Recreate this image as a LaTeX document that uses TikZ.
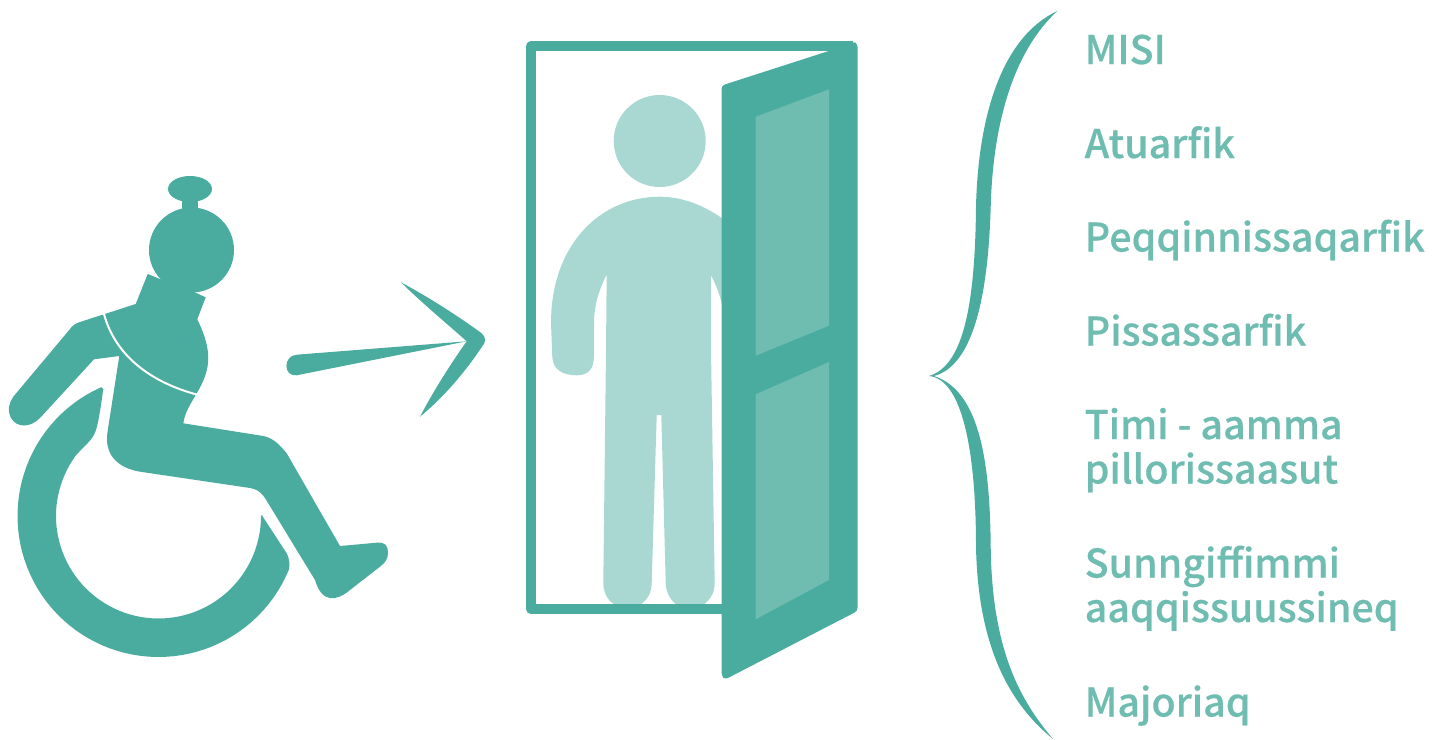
\documentclass[tikz,border=0pt]{standalone}
\usepackage{fontspec}
\setmainfont[FakeBold=0.35]{Noto Sans CJK SC Medium}
\definecolor{tealdark}{HTML}{49AC9E}
\definecolor{tealmid}{HTML}{6FBCB0}
\definecolor{teallight}{HTML}{A8D8D1}
\begin{document}
\begin{tikzpicture}[x=1pt,y=-1pt,solid/.style={fill=tealdark,draw=none},pale/.style={fill=teallight,draw=none},panel/.style={fill=tealmid,draw=none},
label/.style={anchor=base west,inner sep=0pt,text=tealmid,font=\fontsize{39.4}{44.5}\selectfont,align=left}]
\useasboundingbox (0,0) rectangle (1432,739);
\fill[solid] (190,189) ellipse [x radius=22,y radius=13];
\fill[solid] (182,198) rectangle (198,212);
\fill[solid] (191.5,250) circle [radius=42.5];
\fill[solid] (147.7,274) -- (165,281) -- (194,292) -- (205.7,297.3) -- (197.3,319.3)
  .. controls (212,350) and (212,368) .. (196.7,393.3)
  .. controls (190,405) and (185,412) .. (183.3,423.3) -- (263.3,436)
  .. controls (273,438) and (279,444) .. (286.7,453.3) -- (340,546) -- (376.7,542.7)
  .. controls (386,542) and (388,546) .. (388,553) .. controls (388,559) and (385,563) .. (380,566.7)
  -- (350,590) .. controls (337,601) and (322,604) .. (315,580) -- (265,498)
  .. controls (260,491) and (256,489) .. (250,488) -- (140,471.7)
  .. controls (118,468) and (104,455) .. (107.5,432) -- (119.3,356) -- (94,359.3) -- (40,418)
  .. controls (30,428) and (17,428) .. (11,418) .. controls (7,410) and (9,403) .. (13.3,396.7)
  -- (71.7,327) .. controls (75,323.5) and (77,323) .. (80,322) -- (135.7,304) -- cycle;
\draw[white,line width=2pt] (104,314) .. controls (115,355) and (150,382) .. (196.7,394.5);
\fill[solid] (103.3,389) -- plot[domain=246:22.5,samples=70] ({158.5+141*cos(\x)},{516+141*sin(\x)})
  .. controls (290,566) and (289.5,558) .. (286.7,553.3) -- (261.7,515)
  -- plot[domain=0:216,samples=70] ({158.5+102.5*cos(\x)},{516+102.5*sin(\x)})
  .. controls (84,446) and (93,440) .. (96,430) .. controls (99,420) and (101,405) .. (103.3,389) -- cycle;
\fill[solid] (296.7,354.7) -- (466.7,341.3) -- (296.7,375.3) .. controls (283,377) and (283,355.5) .. (296.7,354.7) -- cycle;
\fill[solid] (401,282.3) .. controls (430,298) and (458,316) .. (481.7,333.3) .. controls (486,337) and (486,342) .. (482.5,346)
  .. controls (465,372) and (445,396) .. (420,416.7) .. controls (434,390) and (450,365) .. (466.7,341.3)
  .. controls (445,322) and (422,303) .. (401,282.3) -- cycle;
\fill[pale] (659.7,141) circle [radius=46];
\fill[pale] (659.7,196.7) .. controls (600,196.7) and (551,245) .. (551,323) -- (552.3,357)
  .. controls (553,370) and (563,375.3) .. (577,375.3) .. controls (589,375.3) and (594,368) .. (594,356) -- (594,323)
  .. controls (594,305) and (599,290) .. (606.7,274.3) -- (606,350) -- (603.3,583)
  .. controls (603.3,593) and (608,601) .. (615,604.7) -- (640,604.7) .. controls (648,600) and (651.5,592) .. (651.7,583)
  -- (656.7,415) -- (661.3,415) -- (665.7,583) .. controls (666,592) and (670,600) .. (676.7,604.7) -- (703.3,604.7)
  .. controls (710,600) and (714.7,593) .. (714.7,583) -- (711,350) -- (711,275) .. controls (716,285) and (720,295) .. (722,305)
  -- (730,305) -- (730,225) -- (721.7,218) .. controls (703,205) and (682,196.7) .. (659.7,196.7) -- cycle;
\draw[tealdark,line width=10pt,line join=round] (730,609.3) -- (531.2,609.3) -- (531.2,46) -- (853,46);
\fill[solid,rounded corners=3pt] (721.7,85.5) -- (852,43.5) -- (853,41) -- (857.5,44) -- (857.5,611) -- (725,679.5) -- (721.7,676) -- cycle;
\fill[panel] (755.7,116.7) -- (829,89.3) -- (829,325.7) -- (755.7,355.7) -- cycle;
\fill[panel] (755.7,394.3) -- (829,362) -- (829,580) -- (755.7,619.3) -- cycle;
\fill[solid] (1057.3,11) .. controls (1000,38) and (978,120) .. (976,207) .. controls (975,310) and (962,366) .. (929,376)
  .. controls (962,379) and (976,450) .. (976,547) .. controls (978,640) and (1005,700) .. (1053,739)
  .. controls (1020,700) and (992,650) .. (990.7,547) .. controls (990,450) and (976,390) .. (934,376)
  .. controls (972,366) and (988,300) .. (990.7,207) .. controls (993,120) and (1015,50) .. (1057.3,11) -- cycle;
\node[label] (misi) at (1084.5,64) {MISI};
\node[label] (atuarfik) at (1084.5,158) {Atuarfik};
\node[label] (peqqinnissaqarfik) at (1084.5,251.5) {Peqqinnissaqarfik};
\node[label] (pissassarfik) at (1084.5,345.5) {Pissassarfik};
\node[label] (timi) at (1084.5,483.5) {Timi - aamma\\pillorissaasut};
\node[label] (sunngiffimmi) at (1084.5,622) {Sunngiffimmi\\aaqqissuussineq};
\node[label] (majoriaq) at (1084.5,716.5) {Majoriaq};
\end{tikzpicture}
\end{document}
